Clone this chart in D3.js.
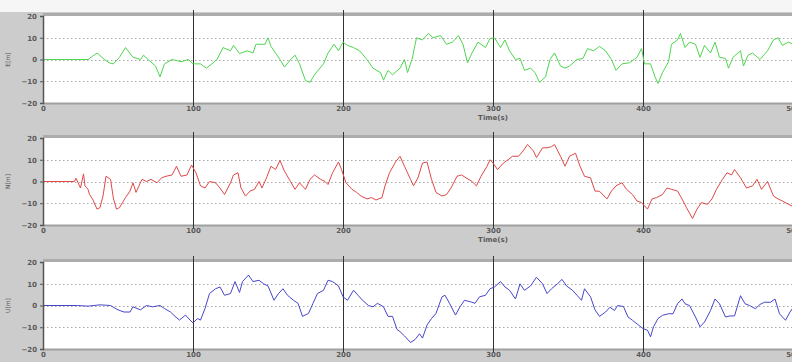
<!DOCTYPE html>
<html><head><meta charset="utf-8">
<script src="https://cdn.jsdelivr.net/npm/d3@7"></script>
<style>body{margin:0;background:#fff}svg{display:block}</style>
</head><body>
<script>
const xTicks = [0, 100, 200, 300, 400, 500];
const yTicks = [20, 10, 0, -10, -20];
const panelLabels = ["E[m]", "N[m]", "U[m]"];
const xTitle = "Time(s)";
const seriesColors = ["#4fd64f", "#e04848", "#4646cc"];

const eastSeries = [[0,0],[30,0],[33,1.5],[36,3],[41,0],[44,-1.5],[47,-2],[51,1],[55,5.5],[60,1],[65,0],[67,2],[70,0],[75,-3],[78,-8],[81,-2],[86,0],[92,-1],[97,0],[100,-2],[105,-2],[109,-4],[116,0],[120,5.5],[125,4],[127,6.5],[131,2.7],[136,4],[140,3],[142,7],[148,7],[150,10],[152,6],[158,0],[161,-3.5],[165,0],[168,2],[171,-2],[175,-9.7],[178,-10.5],[181,-7],[187,-2],[190,3],[194,7],[197,4],[200,8],[203,6.5],[207,5.5],[211,4],[216,0],[220,-4],[225,-6],[227,-9.5],[230,-5],[233,-7],[238,-4],[241,0],[243,-6],[246,0],[249,10],[253,9],[257,12],[260,10],[265,11],[269,7],[273,8],[277,11],[280,7],[283,-1.5],[286,3],[290,8],[295,5.5],[298,9.6],[301,10],[305,5.5],[308,9],[311,4],[315,0],[318,0.5],[321,-5],[325,-4],[328,-6],[331,-10.5],[335,-8],[338,0],[341,3],[345,-3],[348,-4],[351,-3],[356,0],[360,0.5],[363,5],[367,4],[371,6],[375,4],[379,0],[382,-5],[386,-2],[391,-1.5],[396,1],[399,5],[401,-2],[405,-2],[408,-8],[410,-11],[413,-6],[417,-1],[419,7],[423,9],[425,12],[428,5.5],[431,8],[435,7],[438,1],[441,6.5],[445,3],[448,8],[451,1],[455,0.5],[457,-4],[460,1],[465,4],[467,-3],[470,2],[473,3],[478,0],[483,4],[487,9],[490,10],[493,6.5],[497,8],[500,7]];

const northSeries = [[0,0],[21,0],[22,1.5],[25,-3],[27,3.5],[28,-2],[30,-3.6],[31,-6],[33,-8],[36,-12.7],[38,-12],[40,-6.7],[42,2.4],[45,1],[47,-8],[49,-12.7],[51,-12],[55,-7.4],[58,-4.4],[60,-0.6],[62,-5],[66,1],[69,0],[72,1],[76,-0.6],[79,1.7],[82,2.4],[86,3],[89,7],[92,2.4],[96,3],[99,7.6],[102,4],[105,-2],[108,-3],[111,0],[115,-0.6],[118,-3],[121,-6],[125,-0.6],[127,3],[130,4],[132,-3],[135,-6.7],[138,-4.4],[141,-3.6],[144,0],[146,-3],[149,1.7],[152,7],[155,5.5],[158,9.7],[161,4.7],[165,0],[168,-3.6],[171,-0.6],[175,-3.6],[178,1],[181,3],[185,1],[188,0],[190,-1.4],[193,4],[197,9],[199,5.5],[202,-0.6],[206,-3.6],[209,-5],[212,-6.7],[216,-8],[219,-7.4],[222,-8.5],[226,-7.4],[228,-2],[231,4],[235,9],[238,11.6],[241,7],[245,1],[247,-2],[250,1.7],[253,8.5],[256,9],[259,1],[262,-5],[266,-6.7],[269,-6],[272,-3],[276,2.4],[279,3],[282,1.7],[286,0],[289,-2],[292,2.4],[296,7],[298,10],[300,8.5],[303,5.5],[307,8.5],[310,10],[313,11.6],[317,11.6],[320,14],[323,17],[327,14],[329,11],[333,15.5],[336,15.5],[339,16],[341,17],[345,11.6],[348,7],[351,11.6],[355,13],[358,7],[361,2.4],[365,1.7],[368,-4.4],[371,-4.5],[376,-8],[379,-4.4],[382,-2],[386,-0.6],[389,-3.6],[393,-6],[396,-9],[399,-9.7],[403,-12.7],[406,-8],[409,-7.4],[413,-6],[416,-3],[419,-3.6],[423,-4.4],[426,-8],[429,-12],[433,-17],[436,-12.7],[439,-9.7],[443,-10.5],[446,-8],[449,-3.6],[453,1],[456,4],[459,3],[461,5.5],[465,1.7],[469,-3],[473,-2],[476,1],[479,-3.6],[483,0],[487,-6.7],[490,-8],[493,-9],[497,-10.5],[500,-11.5]];

const upSeries = [[0,0],[23,0],[30,-0.3],[38,0.3],[45,0],[50,-2],[54,-3],[58,-3],[60,-0.6],[65,-2],[69,0],[73,-0.6],[78,0],[81,-1.4],[85,-3],[88,-5],[91,-6.7],[95,-4.4],[98,-6.7],[100,-8],[103,-6],[105,-6.7],[108,-1.4],[111,5.5],[115,7.7],[118,8.5],[121,4.7],[125,5.5],[128,11],[131,6],[133,11],[137,14],[140,11],[144,11.6],[147,10],[150,9],[154,2.4],[157,5.5],[160,7.7],[163,4.7],[167,2.4],[170,1],[173,-5],[177,-3.6],[180,1],[183,5.5],[187,7],[190,11.6],[193,11],[197,9],[200,4],[203,2.4],[207,7],[210,4.7],[213,2.4],[217,0],[220,-0.6],[223,1],[227,-0.6],[230,-5],[233,-5],[236,-11],[238,-12],[241,-14],[245,-17],[248,-15.7],[251,-13],[253,-15],[256,-9],[259,-6],[262,-3.6],[266,4],[268,4.7],[271,1],[275,-4.4],[278,-0.6],[281,2.4],[285,1.7],[288,1],[291,4],[295,4.7],[298,7.7],[301,8.5],[305,11],[308,8.5],[311,7],[315,3],[318,10],[321,7],[325,9],[329,13],[333,10],[336,5.5],[339,7.7],[343,10],[346,12],[349,9],[353,7],[356,4.7],[359,2.4],[361,7.7],[365,4],[368,-2],[371,-5],[375,-3],[378,-0.8],[381,-2.3],[383,0],[387,-0.5],[390,-5.3],[393,-6.8],[397,-9],[400,-10.6],[403,-11.4],[405,-14.4],[407,-9.8],[410,-6],[413,-4.5],[417,-3.8],[420,-3.8],[423,0.8],[426,3],[428,0.8],[431,0],[435,-5.3],[438,-9.8],[441,-7.6],[445,-2.3],[448,3],[451,0.8],[455,-5.3],[458,-4.8],[461,-4.8],[465,4.5],[468,0.8],[471,0],[475,-1.5],[478,0.5],[481,1.5],[485,1.5],[488,3],[491,-3.8],[495,-6.8],[498,-3],[500,-1]];

const allSeries = [eastSeries, northSeries, upSeries];

const W = 792, H = 362;
const plotLeft = 43, plotRight = 793;
const panelTops = [16, 138, 262];
const panelH = 87;

const svg = d3.select("body").append("svg").attr("width", W).attr("height", H);
svg.append("rect").attr("width", W).attr("height", H).attr("fill", "#cccccc");
svg.append("rect").attr("width", W).attr("height", 12).attr("fill", "#f6f6f6");

const x = d3.scaleLinear().domain([0, 500]).range([plotLeft, plotRight]);

allSeries.forEach((series, i) => {
  const top = panelTops[i];
  const y = d3.scaleLinear().domain([-20, 20]).range([top + panelH, top]);
  const g = svg.append("g");
  g.append("rect").attr("x", plotLeft).attr("y", top - 3).attr("width", plotRight - plotLeft).attr("height", 3).attr("fill", "#acacac");
  g.append("rect").attr("x", plotLeft).attr("y", top).attr("width", plotRight - plotLeft).attr("height", panelH).attr("fill", "#ffffff");
  g.append("line").attr("x1", plotLeft).attr("x2", plotRight).attr("y1", top + panelH + 0.5).attr("y2", top + panelH + 0.5).attr("stroke", "#a0a0a0").attr("stroke-width", 2);
  [10, 0, -10].forEach(v => {
    g.append("line").attr("x1", plotLeft).attr("x2", plotRight)
      .attr("y1", Math.round(y(v)) + 0.5).attr("y2", Math.round(y(v)) + 0.5)
      .attr("stroke", "#a8a8a8").attr("stroke-width", 1).attr("stroke-dasharray", "1.5,2.5");
  });
  [100, 200, 300, 400].forEach(t => {
    g.append("line").attr("x1", Math.round(x(t)) + 0.5).attr("x2", Math.round(x(t)) + 0.5)
      .attr("y1", top - 6).attr("y2", top + panelH + 4)
      .attr("stroke", "#333333").attr("stroke-width", 1);
  });
  const line = d3.line().x(d => x(d[0])).y(d => y(d[1]));
  g.append("path").datum(series).attr("d", line).attr("fill", "none")
    .attr("stroke", seriesColors[i]).attr("stroke-width", 1).attr("stroke-linejoin", "round");
  const yAxis = d3.axisLeft(y).tickValues(yTicks).tickSize(3).tickPadding(3);
  const ya = g.append("g").attr("transform", `translate(${plotLeft},0)`).call(yAxis);
  ya.select(".domain").attr("stroke", "#555").attr("stroke-width", 1.5);
  ya.selectAll(".tick line").attr("stroke", "#555");
  ya.selectAll("text").attr("font-family", "DejaVu Sans, sans-serif").attr("font-size", 7).attr("font-weight", "bold").attr("fill", "#5a5a5a");
  const xAxis = d3.axisBottom(x).tickValues(xTicks).tickSize(0).tickPadding(3);
  const xa = g.append("g").attr("transform", `translate(0,${top + panelH})`).call(xAxis);
  xa.select(".domain").remove();
  xa.selectAll("text").attr("font-family", "DejaVu Sans, sans-serif").attr("font-size", 7).attr("font-weight", "bold").attr("fill", "#5a5a5a");
  if (i < 2) {
    g.append("text").attr("x", x(300)).attr("y", top + panelH + 17).attr("text-anchor", "middle")
      .attr("font-family", "DejaVu Sans, sans-serif").attr("font-size", 7).attr("font-weight", "bold").attr("fill", "#5a5a5a").text(xTitle);
  }
  g.append("text").attr("transform", `translate(10,${top + panelH / 2}) rotate(-90)`).attr("text-anchor", "middle")
    .attr("font-family", "DejaVu Sans, sans-serif").attr("font-size", 6).attr("fill", "#5a5a5a").text(panelLabels[i]);
});
</script>
</body></html>
